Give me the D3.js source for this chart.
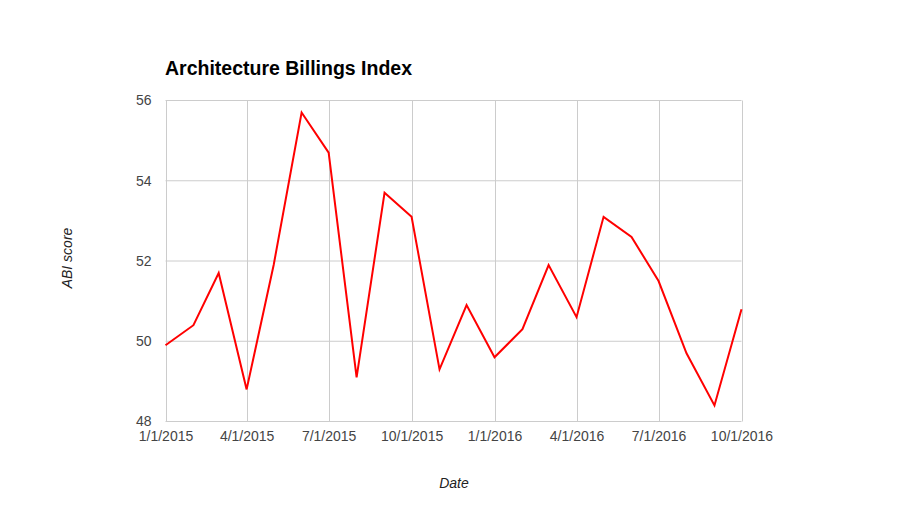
<!DOCTYPE html>
<html><head><meta charset="utf-8">
<script src="https://cdn.jsdelivr.net/npm/d3@7"></script>
<style>body{margin:0;background:#fff;} text{font-family:Arial,"Liberation Sans",sans-serif;}</style>
</head><body>
<svg id="c" width="907" height="521"></svg>
<script>
const dates = ["2015-01-01","2015-02-01","2015-03-01","2015-04-01","2015-05-01","2015-06-01","2015-07-01","2015-08-01","2015-09-01","2015-10-01","2015-11-01","2015-12-01","2016-01-01","2016-02-01","2016-03-01","2016-04-01","2016-05-01","2016-06-01","2016-07-01","2016-08-01","2016-09-01","2016-10-01"];
const abi = [49.9,50.4,51.7,48.8,51.9,55.7,54.7,49.1,53.7,53.1,49.3,50.9,49.6,50.3,51.9,50.6,53.1,52.6,51.5,49.7,48.4,50.8];
const xTicks = ["2015-01-01","2015-04-01","2015-07-01","2015-10-01","2016-01-01","2016-04-01","2016-07-01","2016-10-01"];
const yTicks = [48,50,52,54,56];
const title = "Architecture Billings Index";
const xTitle = "Date";
const yTitle = "ABI score";

const parse = d3.utcParse("%Y-%m-%d");
const fmt = d => (d.getUTCMonth()+1)+"/"+d.getUTCDate()+"/"+d.getUTCFullYear();
const svg = d3.select("#c");
const L=165.5, R=741.5, T=100.5, B=421.5;
const x = d3.scaleUtc().domain([parse(xTicks[0]), parse(xTicks[xTicks.length-1])]).range([L,R]);
const y = d3.scaleLinear().domain([48,56]).range([B,T]);

// gridlines
const g = svg.append("g");
g.selectAll("line.h").data(yTicks).join("line")
  .attr("x1",L).attr("x2",R).attr("y1",d=>y(d)).attr("y2",d=>y(d))
  .attr("stroke","#cccccc").attr("stroke-width",1);
g.selectAll("line.v").data(xTicks).join("line")
  .attr("y1",T).attr("y2",B).attr("x1",d=>Math.round(x(parse(d)))+0.5).attr("x2",d=>Math.round(x(parse(d)))+0.5)
  .attr("stroke","#cccccc").attr("stroke-width",1);

// axes labels via d3 axes
const xa = svg.append("g").attr("transform",`translate(0,${B})`)
  .call(d3.axisBottom(x).tickValues(xTicks.map(parse)).tickFormat(fmt).tickSize(0).tickPadding(10));
xa.select(".domain").remove();
xa.selectAll("text").attr("fill","#444").attr("font-size","14px");
const ya = svg.append("g").attr("transform",`translate(${L},0)`)
  .call(d3.axisLeft(y).tickValues(yTicks).tickFormat(d3.format("d")).tickSize(0).tickPadding(14));
ya.select(".domain").remove();
ya.selectAll("text").attr("fill","#444").attr("font-size","14px");

// line
const line = d3.line().x((d,i)=>x(parse(dates[i]))).y(d=>y(d));
svg.append("path").datum(abi).attr("d",line).attr("fill","none")
  .attr("stroke","#ff0000").attr("stroke-width",2).attr("stroke-linejoin","miter");

// titles
svg.append("text").attr("x",165).attr("y",75).attr("font-size","19.5px").attr("font-weight","bold").attr("fill","#000").text(title);
svg.append("text").attr("x",454).attr("y",488).attr("text-anchor","middle").attr("font-size","14px").attr("font-style","italic").attr("fill","#222").text(xTitle);
svg.append("text").attr("transform","translate(72,258) rotate(-90)").attr("text-anchor","middle").attr("font-size","14px").attr("font-style","italic").attr("fill","#222").text(yTitle);
</script>
</body></html>
